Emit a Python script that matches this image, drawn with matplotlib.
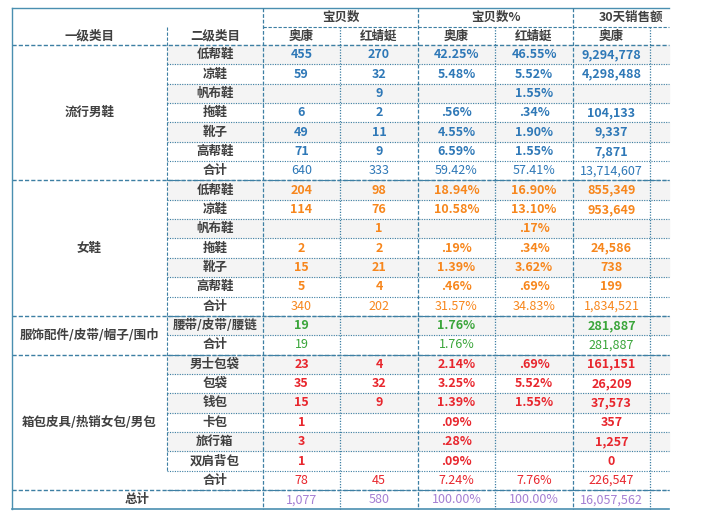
import matplotlib.pyplot as plt
from matplotlib.patches import Rectangle

plt.rcParams['font.family'] = ['Noto Sans CJK SC']

groups = ['流行男鞋', '女鞋', '服饰配件/皮带/帽子/围巾', '箱包皮具/热销女包/男包']
group_colors = ['#2e78b7', '#f7861c', '#3aa53a', '#e8262d']
subcats = [
    ['低帮鞋', '凉鞋', '帆布鞋', '拖鞋', '靴子', '高帮鞋', '合计'],
    ['低帮鞋', '凉鞋', '帆布鞋', '拖鞋', '靴子', '高帮鞋', '合计'],
    ['腰带/皮带/腰链', '合计'],
    ['男士包袋', '包袋', '钱包', '卡包', '旅行箱', '双肩背包', '合计'],
]
aokang_cnt = [['455', '59', '', '6', '49', '71', '640'],
              ['204', '114', '', '2', '15', '5', '340'],
              ['19', '19'],
              ['23', '35', '15', '1', '3', '1', '78']]
hqt_cnt = [['270', '32', '9', '2', '11', '9', '333'],
           ['98', '76', '1', '2', '21', '4', '202'],
           ['', ''],
           ['4', '32', '9', '', '', '', '45']]
aokang_pct = [['42.25%', '5.48%', '', '.56%', '4.55%', '6.59%', '59.42%'],
              ['18.94%', '10.58%', '', '.19%', '1.39%', '.46%', '31.57%'],
              ['1.76%', '1.76%'],
              ['2.14%', '3.25%', '1.39%', '.09%', '.28%', '.09%', '7.24%']]
hqt_pct = [['46.55%', '5.52%', '1.55%', '.34%', '1.90%', '1.55%', '57.41%'],
           ['16.90%', '13.10%', '.17%', '.34%', '3.62%', '.69%', '34.83%'],
           ['', ''],
           ['.69%', '5.52%', '1.55%', '', '', '', '7.76%']]
aokang_sales = [['9,294,778', '4,298,488', '', '104,133', '9,337', '7,871', '13,714,607'],
                ['855,349', '953,649', '', '24,586', '738', '199', '1,834,521'],
                ['281,887', '281,887'],
                ['161,151', '26,209', '37,573', '357', '1,257', '0', '226,547']]
total_row = ['1,077', '580', '100.00%', '100.00%', '16,057,562']
total_color = '#a57fd3'

col_x = [12, 167, 263, 340, 418, 495, 573, 650, 730]
top, h1, h2 = 8, 27, 45
row_h = 19.35
clip_x = 669

fig = plt.figure(figsize=(7.02, 5.17), dpi=100)
ax = fig.add_axes([0, 0, 1, 1])
ax.set_xlim(0, 702)
ax.set_ylim(517, 0)
ax.axis('off')

line_c = '#3d7fa3'
def hline(y, x0, x1, ls='--', lw=0.8, c=line_c):
    kw = {'dashes': (3, 1.5)} if ls == '--' else ({'dashes': (1, 1.2)} if ls == ':' else {})
    ax.plot([x0, min(x1, clip_x)], [y, y], lw=lw, color=c, **kw)
def vline(x, y0, y1, ls='--', lw=0.8, c=line_c):
    if x > clip_x:
        return
    kw = {'dashes': (3, 1.5)} if ls == '--' else ({'dashes': (1, 1.2)} if ls == ':' else {})
    ax.plot([x, x], [y0, y1], lw=lw, color=c, **kw)

def cell_text(x0, x1, y, s, color, bold=True, size=9):
    ax.text((x0 + x1) / 2, y, s, ha='center', va='center', color=color,
            fontsize=size, fontweight='bold' if bold else 'normal')

# headers
ax.text((col_x[0] + col_x[1]) / 2, 36, '一级类目', ha='center', va='center', fontsize=9, color='#404040', fontweight='bold')
ax.text((col_x[1] + col_x[2]) / 2, 36, '二级类目', ha='center', va='center', fontsize=9, color='#404040', fontweight='bold')
for i, name in enumerate(['宝贝数', '宝贝数%', '30天销售额']):
    x0, x1 = col_x[2 + 2 * i], min(col_x[4 + 2 * i], 720)
    cell_text(x0, x1 if i < 2 else 690, 17, name, '#404040')
    for j, brand in enumerate(['奥康', '红蜻蜓']):
        if i == 2 and j == 1:
            continue
        cell_text(col_x[2 + 2 * i + j], col_x[3 + 2 * i + j], 36, brand, '#404040')
hline(top, col_x[0], clip_x, ls='-', lw=1.0, c='#4a8fb0')
hline(h1, col_x[2], clip_x)
hline(h2, col_x[0], clip_x, lw=1.0)
vline(col_x[1], h1, 490 - row_h)

y = h2
for g, subs in enumerate(subcats):
    gy0 = y
    for r, sub in enumerate(subs):
        yc = y + row_h / 2
        is_total = sub == '合计'
        if r % 2 == 0 and not is_total:
            ax.add_patch(Rectangle((col_x[1], y), clip_x - col_x[1], row_h, color='#f4f4f4', zorder=0))
        cell_text(col_x[1], col_x[2], yc, sub, '#404040')
        vals = [aokang_cnt[g][r], hqt_cnt[g][r], aokang_pct[g][r], hqt_pct[g][r], aokang_sales[g][r]]
        for k, v in enumerate(vals):
            cell_text(col_x[2 + k], col_x[3 + k], yc, v, group_colors[g], bold=not is_total)
        y += row_h
        hline(y, col_x[1], clip_x, ls=':' if not is_total else '--', lw=0.8)
    ax.text((col_x[0] + col_x[1]) / 2, (gy0 + y) / 2, groups[g], ha='center', va='center',
            fontsize=9, color='#404040', fontweight='bold')
    hline(y, col_x[0], clip_x, lw=1.0)

yc = y + row_h / 2
ax.text((col_x[0] + col_x[2]) / 2, yc, '总计', ha='center', va='center', fontsize=9, color='#404040', fontweight='bold')
for k, v in enumerate(total_row):
    cell_text(col_x[2 + k], col_x[3 + k], yc, v, total_color, bold=False)
hline(y + row_h, col_x[0], clip_x, ls='-', lw=1.2, c='#4a8fb0')
vline(col_x[0], top, y + row_h, ls='-', lw=1.0, c='#4a8fb0')
for k, x in enumerate(col_x[2:]):
    yt = top if k % 2 == 0 else h1
    vline(x, yt, y + row_h, ls='--' if k % 2 == 0 else ':', lw=0.9)

fig.savefig('out.png', dpi=100)
